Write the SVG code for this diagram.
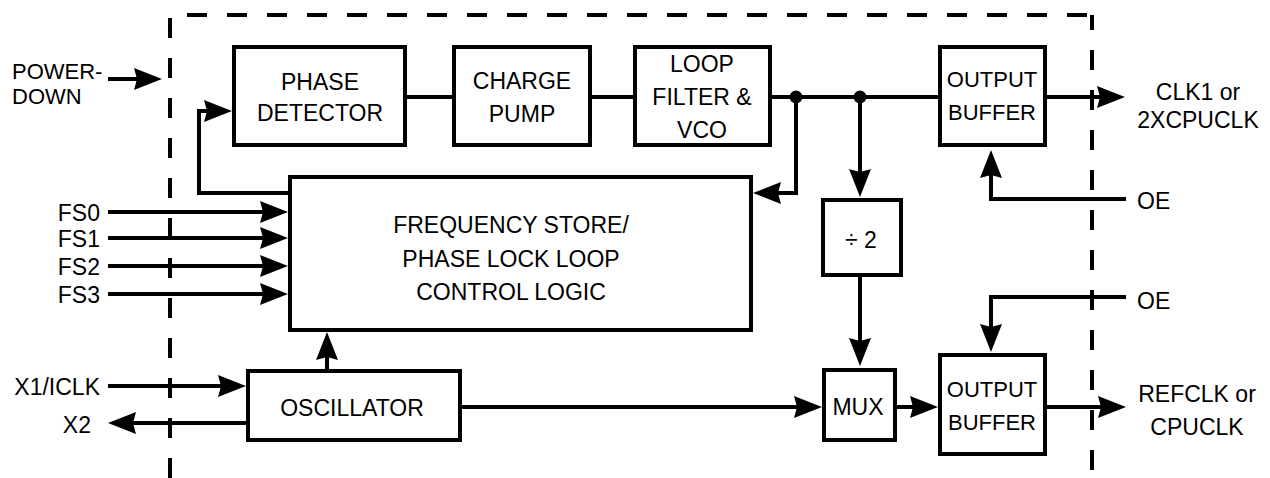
<svg xmlns="http://www.w3.org/2000/svg" width="1270" height="478" viewBox="0 0 1270 478">
<style>
.bx{fill:#fff;stroke:#000;stroke-width:4}
.ln{fill:none;stroke:#000;stroke-width:4}
.ar{fill:none;stroke:#000;stroke-width:4;marker-end:url(#ah)}
.dash{fill:none;stroke:#000;stroke-width:4;stroke-dasharray:20 20}
text{font-family:"Liberation Sans",Arial,sans-serif;font-size:23px;fill:#000}
.c{text-anchor:middle}
.e{text-anchor:end}
.ob{font-size:22px}
.pd{font-size:22px}
</style>
<defs>
<marker id="ah" markerUnits="userSpaceOnUse" markerWidth="30" markerHeight="24" refX="20" refY="11" orient="auto" overflow="visible">
<path d="M0,0 L28,11 L0,22 L3,11 Z" fill="#000"/>
</marker>
</defs>
<rect width="1270" height="478" fill="#fff"/>
<g id="boundary">
<path class="dash" d="M170,478 V15 H1092"/>
<path class="dash" d="M1092,15 V478" stroke-dashoffset="5"/>
</g>
<g id="connectors">
<path class="ar" d="M108,79 H154"/>
<path class="ln" d="M407,97 H452"/>
<path class="ln" d="M592,97 H633"/>
<path class="ln" d="M772,97 H938"/>
<path class="ar" d="M796,97 V193 H761"/>
<path class="ar" d="M860,97 V189"/>
<path class="ar" d="M1047,97 H1117"/>
<path class="ar" d="M1126,199 H991 V158"/>
<path class="ar" d="M1126,297 H991 V344"/>
<path class="ar" d="M860,277 V358"/>
<path class="ar" d="M462,407 H814"/>
<path class="ar" d="M897,407 H930"/>
<path class="ar" d="M1047,407 H1118"/>
<path class="ar" d="M108,212 H280"/>
<path class="ar" d="M108,238 H280"/>
<path class="ar" d="M108,266 H280"/>
<path class="ar" d="M108,294 H280"/>
<path class="ar" d="M288,193 H199 V111 H224"/>
<path class="ar" d="M327,369 V340"/>
<path class="ar" d="M108,386 H238"/>
<path class="ar" d="M246,423 H116"/>
<circle cx="796" cy="97" r="6.5" fill="#000"/>
<circle cx="860" cy="97" r="6.5" fill="#000"/>
</g>
<g id="phase-detector">
<rect class="bx" x="234" y="47" width="171" height="98"/>
<text class="c" x="320" y="90">PHASE</text>
<text class="c" x="320" y="121">DETECTOR</text>
</g>
<g id="charge-pump">
<rect class="bx" x="454" y="47" width="136" height="98"/>
<text class="c" x="522" y="89">CHARGE</text>
<text class="c" x="522" y="122">PUMP</text>
</g>
<g id="loop-filter">
<rect class="bx" x="635" y="47" width="135" height="98"/>
<text class="c" x="702" y="72">LOOP</text>
<text class="c" x="702" y="105">FILTER &amp;</text>
<text class="c" x="702" y="138">VCO</text>
</g>
<g id="output-buffer-1">
<rect class="bx" x="940" y="47" width="105" height="98"/>
<text class="c ob" x="992" y="87">OUTPUT</text>
<text class="c ob" x="992" y="120">BUFFER</text>
</g>
<g id="freq-store">
<rect class="bx" x="290" y="177" width="461" height="153"/>
<text class="c" x="511" y="233">FREQUENCY STORE/</text>
<text class="c" x="511" y="267">PHASE LOCK LOOP</text>
<text class="c" x="511" y="300">CONTROL LOGIC</text>
</g>
<g id="div2">
<rect class="bx" x="823" y="200" width="78" height="75"/>
<text class="c" x="861" y="248">÷ 2</text>
</g>
<g id="mux">
<rect class="bx" x="824" y="370" width="71" height="70"/>
<text class="c" x="858" y="415">MUX</text>
</g>
<g id="output-buffer-2">
<rect class="bx" x="940" y="355" width="105" height="99"/>
<text class="c ob" x="992" y="397">OUTPUT</text>
<text class="c ob" x="992" y="430">BUFFER</text>
</g>
<g id="oscillator">
<rect class="bx" x="248" y="371" width="212" height="69"/>
<text class="c" x="352" y="416">OSCILLATOR</text>
</g>
<g id="labels">
<text class="pd" x="12" y="79">POWER-</text>
<text class="pd" x="12" y="104">DOWN</text>
<text class="e" x="100" y="221">FS0</text>
<text class="e" x="100" y="247">FS1</text>
<text class="e" x="100" y="275">FS2</text>
<text class="e" x="100" y="303">FS3</text>
<text class="e" x="100" y="395">X1/ICLK</text>
<text class="e" x="91" y="433">X2</text>
<text class="c" x="1198" y="100">CLK1 or</text>
<text class="c" x="1198" y="128">2XCPUCLK</text>
<text x="1137" y="209">OE</text>
<text x="1137" y="309">OE</text>
<text class="c" x="1197" y="402">REFCLK or</text>
<text class="c" x="1197" y="435">CPUCLK</text>
</g>
</svg>
